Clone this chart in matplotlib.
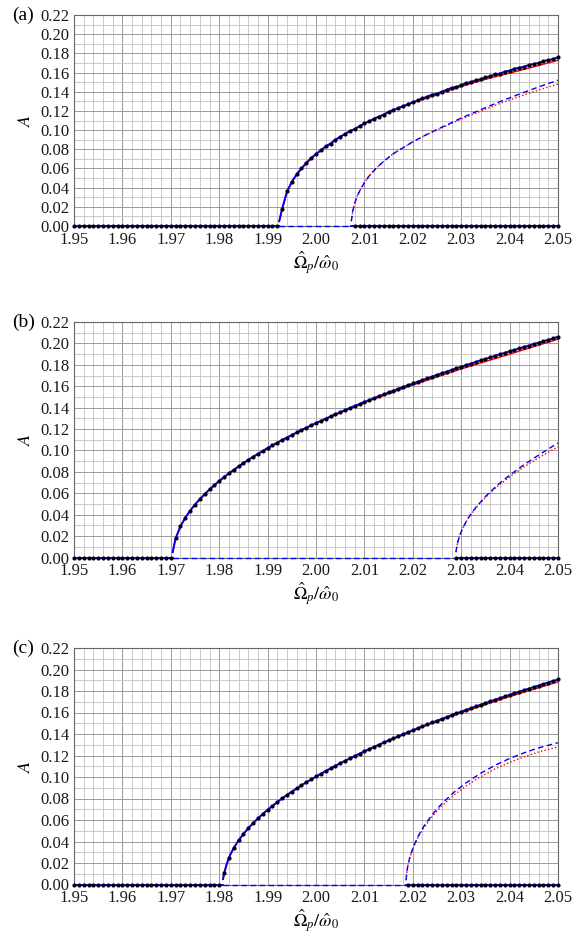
import numpy as np
import matplotlib
matplotlib.use('Agg')
import matplotlib.pyplot as plt
from matplotlib.ticker import MultipleLocator, FormatStrFormatter

plt.rcParams['font.family'] = 'serif'
plt.rcParams['font.serif'] = ['Liberation Serif', 'DejaVu Serif']
plt.rcParams['mathtext.fontset'] = 'stix'

# ---------------- data ----------------
# x grid of the numerical points: step 0.001
x_step = 0.001
x_min, x_max = 1.95, 2.05

# panel (a)
a_onset, a_onset_A = 1.9924, 0.005
a_unst_onset = 2.0073
a_zero_left_end, a_zero_right_start = 1.992, 2.008
a_num_start = 1.993
a_num_A = [0.018, 0.036, 0.046, 0.054, 0.060, 0.066, 0.071, 0.075, 0.079, 0.083,
           0.086, 0.090, 0.093, 0.096, 0.099, 0.101, 0.104, 0.107, 0.109, 0.112,
           0.114, 0.116, 0.119, 0.121, 0.123, 0.125, 0.127, 0.129, 0.131, 0.133,
           0.135, 0.137, 0.138, 0.140, 0.142, 0.144, 0.145, 0.147, 0.149, 0.150,
           0.152, 0.153, 0.155, 0.156, 0.158, 0.159, 0.161, 0.162, 0.164, 0.165,
           0.166, 0.168, 0.169, 0.170, 0.172, 0.173, 0.174, 0.176]
a_red_up_x = [1.9924, 1.993, 1.994, 1.995, 1.997, 2.000, 2.005, 2.010, 2.015, 2.020,
              2.025, 2.030, 2.035, 2.040, 2.045, 2.050]
a_red_up_A = [0.005, 0.017, 0.035, 0.046, 0.060, 0.075, 0.093, 0.107, 0.119, 0.1285,
              0.137, 0.1455, 0.153, 0.1595, 0.166, 0.1728]
a_low_x = [2.0073, 2.0076, 2.0080, 2.0085, 2.0090, 2.0100, 2.0110, 2.0125, 2.0140, 2.0160,
           2.0180, 2.0200, 2.0230, 2.0260, 2.0300, 2.0340, 2.0380, 2.0420, 2.0460, 2.0500]
a_blue_low_A = [0.005, 0.0156, 0.0238, 0.0312, 0.0363, 0.0452, 0.0523, 0.0606, 0.0675, 0.0755,
                0.0817, 0.0878, 0.0958, 0.1030, 0.1125, 0.1212, 0.1297, 0.1375, 0.1450, 0.1520]
a_red_low_A = [0.005, 0.0156, 0.0238, 0.0312, 0.0363, 0.0452, 0.0523, 0.0606, 0.0675, 0.0755,
               0.0817, 0.0876, 0.0955, 0.1024, 0.1115, 0.1197, 0.1277, 0.1350, 0.1418, 0.1480]

# panel (b)
b_onset, b_onset_A = 1.9704, 0.005
b_unst_onset = 2.0289
b_zero_left_end, b_zero_right_start = 1.970, 2.029
b_num_start = 1.971
b_num_A = [0.0179, 0.0292, 0.0372, 0.0438, 0.0495, 0.0546, 0.0593, 0.0636, 0.0677, 0.0715,
           0.0752, 0.0786, 0.0819, 0.0851, 0.0882, 0.0912, 0.0941, 0.0968, 0.0996, 0.1022,
           0.1048, 0.1073, 0.1097, 0.1121, 0.1145, 0.1168, 0.1191, 0.1213, 0.1235, 0.1256,
           0.1277, 0.1298, 0.1318, 0.1338, 0.1358, 0.1377, 0.1397, 0.1416, 0.1434, 0.1453,
           0.1471, 0.1489, 0.1507, 0.1524, 0.1542, 0.1559, 0.1576, 0.1593, 0.1609, 0.1626,
           0.1642, 0.1658, 0.1674, 0.1690, 0.1706, 0.1721, 0.1737, 0.1752, 0.1767, 0.1782,
           0.1797, 0.1812, 0.1826, 0.1841, 0.1855, 0.1870, 0.1884, 0.1898, 0.1912, 0.1926,
           0.1940, 0.1953, 0.1967, 0.1980, 0.1994, 0.2007, 0.2020, 0.2034, 0.2047, 0.2062]
b_red_up_x = [1.9704, 1.9706, 1.971, 1.972, 1.973, 1.975, 1.978, 1.982, 1.987, 1.993,
              2.000, 2.010, 2.020, 2.030, 2.040, 2.050]
b_red_up_A = [0.005, 0.011, 0.0179, 0.0292, 0.0372, 0.0495, 0.0636, 0.0786, 0.0941, 0.1097,
              0.1254, 0.1448, 0.1612, 0.1762, 0.1900, 0.2040]
b_low_x = [2.0289, 2.0291, 2.0294, 2.0298, 2.0305, 2.0315, 2.0330, 2.0350, 2.0375, 2.0400,
           2.0430, 2.0460, 2.0500]
b_blue_low_A = [0.005, 0.0103, 0.0163, 0.0219, 0.0292, 0.0372, 0.0467, 0.0570, 0.0677, 0.0769,
                0.0867, 0.0957, 0.1070]
b_red_low_A = [0.005, 0.0103, 0.0163, 0.0219, 0.0292, 0.0370, 0.0462, 0.0562, 0.0665, 0.0752,
               0.0847, 0.0932, 0.1035]

# panel (c)
c_onset, c_onset_A = 1.9808, 0.005
c_unst_onset = 2.0186
c_zero_left_end, c_zero_right_start = 1.980, 2.019
c_num_start = 1.981
c_num_A = [0.0103, 0.0251, 0.0340, 0.0410, 0.0470, 0.0523, 0.0571, 0.0615, 0.0656, 0.0695,
           0.0732, 0.0767, 0.0801, 0.0833, 0.0864, 0.0894, 0.0923, 0.0951, 0.0978, 0.1005,
           0.1030, 0.1056, 0.1080, 0.1104, 0.1128, 0.1151, 0.1173, 0.1196, 0.1217, 0.1239,
           0.1260, 0.1281, 0.1301, 0.1321, 0.1341, 0.1360, 0.1379, 0.1398, 0.1417, 0.1435,
           0.1454, 0.1472, 0.1489, 0.1507, 0.1524, 0.1541, 0.1558, 0.1575, 0.1592, 0.1608,
           0.1624, 0.1640, 0.1656, 0.1672, 0.1688, 0.1703, 0.1719, 0.1734, 0.1749, 0.1764,
           0.1779, 0.1794, 0.1808, 0.1823, 0.1837, 0.1851, 0.1865, 0.1879, 0.1893, 0.1907]
c_red_up_x = [1.9808, 1.9810, 1.9815, 1.9825, 1.984, 1.986, 1.989, 1.993, 1.998, 2.005,
              2.013, 2.022, 2.031, 2.040, 2.050]
c_red_up_A = [0.005, 0.0103, 0.0192, 0.0299, 0.0410, 0.0523, 0.0656, 0.0801, 0.0951, 0.1128,
              0.1298, 0.1467, 0.1614, 0.1749, 0.1885]
c_low_x = [2.0186, 2.0188, 2.0191, 2.0195, 2.0200, 2.0210, 2.0222, 2.0240, 2.0260, 2.0285,
           2.0310, 2.0340, 2.0370, 2.0400, 2.0430, 2.0460, 2.0500]
c_blue_low_A = [0.004, 0.0129, 0.0203, 0.0272, 0.0338, 0.0441, 0.0536, 0.0650, 0.0752, 0.0858,
                0.0945, 0.1034, 0.1109, 0.1172, 0.1225, 0.1271, 0.1319]
c_red_low_A = [0.004, 0.0127, 0.0199, 0.0266, 0.0330, 0.0430, 0.0522, 0.0632, 0.0730, 0.0832,
               0.0916, 0.1002, 0.1075, 0.1136, 0.1188, 0.1233, 0.1280]

panel_labels = ['(a)', '(b)', '(c)']
x_ticks_major, x_ticks_minor = 0.01, 0.002
y_ticks_major, y_ticks_minor = 0.02, 0.01
y_max = 0.22

# ---------------- figure ----------------
W, H = 581, 935
fig = plt.figure(figsize=(W / 100, H / 100), dpi=100)

def rect(left, top, right, bottom):
    return [left / W, 1 - bottom / H, (right - left) / W, (bottom - top) / H]

rects = [rect(74, 15, 558, 226), rect(74, 322, 558, 557.5), rect(74, 648, 558, 884.5)]

panels = [
    (a_onset, a_onset_A, a_unst_onset, a_zero_left_end, a_zero_right_start, a_num_start, a_num_A,
     a_red_up_x, a_red_up_A, a_low_x, a_blue_low_A, a_red_low_A),
    (b_onset, b_onset_A, b_unst_onset, b_zero_left_end, b_zero_right_start, b_num_start, b_num_A,
     b_red_up_x, b_red_up_A, b_low_x, b_blue_low_A, b_red_low_A),
    (c_onset, c_onset_A, c_unst_onset, c_zero_left_end, c_zero_right_start, c_num_start, c_num_A,
     c_red_up_x, c_red_up_A, c_low_x, c_blue_low_A, c_red_low_A),
]

dot_color = '#000010'
for r, lab, p in zip(rects, panel_labels, panels):
    (onset, onsetA, unst, zl_end, zr_start, nstart, numA,
     rux, ruA, lx, blA, rlA) = p
    ax = fig.add_axes(r)
    ax.set_xlim(x_min, x_max)
    ax.set_ylim(0, y_max)
    ax.xaxis.set_major_locator(MultipleLocator(x_ticks_major))
    ax.xaxis.set_minor_locator(MultipleLocator(x_ticks_minor))
    ax.yaxis.set_major_locator(MultipleLocator(y_ticks_major))
    ax.yaxis.set_minor_locator(MultipleLocator(y_ticks_minor))
    ax.xaxis.set_major_formatter(FormatStrFormatter('%.2f'))
    ax.yaxis.set_major_formatter(FormatStrFormatter('%.2f'))
    ax.grid(which='major', color='#9a9a9a', lw=0.7)
    ax.grid(which='minor', color='#c2c2c2', lw=0.6)
    ax.set_axisbelow(True)
    ax.tick_params(which='both', length=0, labelsize=12, colors='#1a1a1a')
    ax.tick_params(axis='x', pad=4)
    ax.tick_params(axis='y', pad=3)
    for s in ax.spines.values():
        s.set_color('#666666')
        s.set_linewidth(0.8)

    # numerical points
    nx = np.round(nstart + x_step * np.arange(len(numA)), 3)
    zl = np.round(np.arange(x_min, zl_end + x_step / 2, x_step), 3)
    zr = np.round(np.arange(zr_start, x_max + x_step / 2, x_step), 3)

    # trivial branch
    ax.plot([x_min, onset], [0, 0], color='blue', lw=1.3, clip_on=False, zorder=3)
    ax.plot([unst, x_max], [0, 0], color='blue', lw=1.3, clip_on=False, zorder=3)
    ax.plot([onset, unst], [0, 0], color='blue', lw=1.0, ls=(0, (4, 2.5)), clip_on=False, zorder=3)

    # stable nontrivial branch
    ax.plot(rux, ruA, color='red', lw=1.1, zorder=3)
    ax.plot([onset] + list(nx), [onsetA] + list(numA), color='blue', lw=1.4, zorder=4)

    # unstable nontrivial branch
    ax.plot(lx, rlA, color='red', lw=1.0, ls=(0, (1, 1.6)), zorder=3)
    ax.plot(lx, blA, color='blue', lw=1.0, ls=(0, (4, 2.5)), zorder=4)

    # dots
    ax.plot(nx, numA, 'o', color=dot_color, ms=3.0, mec='none', zorder=5, clip_on=False)
    ax.plot(zl, np.zeros_like(zl), 'o', color=dot_color, ms=3.0, mec='none', zorder=5, clip_on=False)
    ax.plot(zr, np.zeros_like(zr), 'o', color=dot_color, ms=3.0, mec='none', zorder=5, clip_on=False)

    ax.set_xlabel(r'$\hat{\Omega}_p/\hat{\omega}_0$', fontsize=13, labelpad=1)
    ax.set_ylabel(r'$A$', fontsize=13, labelpad=5)
    fig.text(12 / W, r[1] + r[3], lab, fontsize=14, ha='left', va='center')

fig.savefig('out.png', dpi=100)
